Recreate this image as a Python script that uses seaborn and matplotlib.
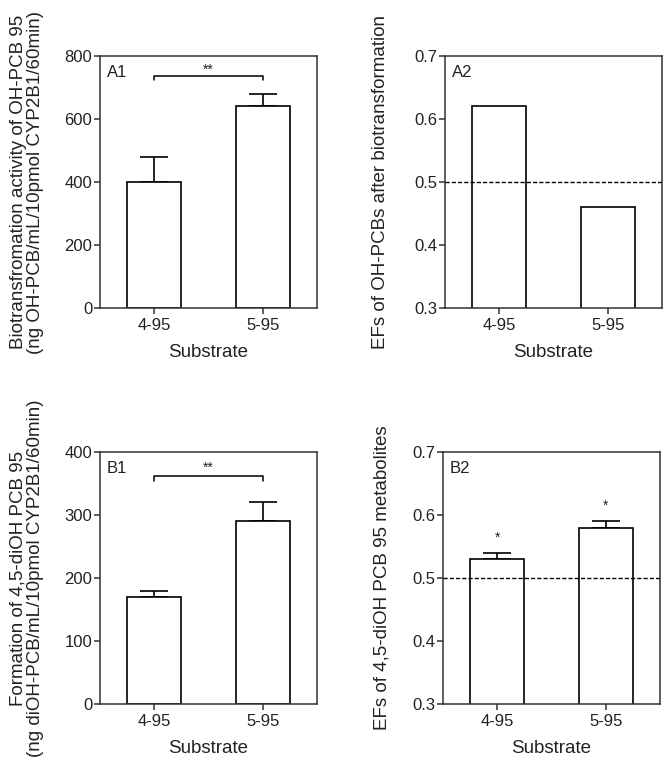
import matplotlib
matplotlib.use("Agg")
import matplotlib.pyplot as plt
import seaborn as sns
import pandas as pd

# ---- data ----
substrates = ["4-95", "5-95"]
a1_values = [400, 640]
a1_errors = [80, 40]
a2_values = [0.62, 0.46]
b1_values = [170, 290]
b1_errors = [10, 30]
b2_values = [0.53, 0.58]
b2_errors = [0.01, 0.01]
b2_stars = ["*", "*"]
a1_yticks = [0, 200, 400, 600, 800]
b1_yticks = [0, 100, 200, 300, 400]
ef_yticks = [0.3, 0.4, 0.5, 0.6, 0.7]
a1_bracket = 737
b1_bracket = 362
ef_reference = 0.5

sns.set_style("ticks")
plt.rcParams["font.family"] = ["Liberation Sans", "DejaVu Sans"]
TXT = "#222222"
SP = "#333333"
plt.rcParams.update({
    "text.color": TXT, "axes.labelcolor": TXT,
    "xtick.color": SP, "ytick.color": SP,
    "xtick.labelcolor": TXT, "ytick.labelcolor": TXT,
})

fig = plt.figure(figsize=(6.64, 7.59), dpi=100)
W, H = 664, 759


def make_ax(left, right, top, bottom):
    return fig.add_axes([left / W, (H - bottom) / H, (right - left) / W, (bottom - top) / H])


axA1 = make_ax(100, 317, 56, 308)
axA2 = make_ax(445, 662, 56, 308)
axB1 = make_ax(100, 317, 452, 704)
axB2 = make_ax(443, 660, 452, 704)


def draw(ax, values, errors, yticks, ylabel, label, label_x):
    df = pd.DataFrame({"Substrate": substrates, "v": values})
    sns.barplot(data=df, x="Substrate", y="v", ax=ax, color="white", saturation=1,
                edgecolor="black", linewidth=1.2, width=0.5, errorbar=None, zorder=2)
    if errors is not None:
        ax.errorbar(range(len(values)), values, yerr=[[0] * len(errors), errors],
                    fmt="none", ecolor="black", elinewidth=1.2, capsize=10,
                    capthick=1.2, zorder=1)
    ax.set_ylim(yticks[0], yticks[-1])
    ax.set_xlim(-0.5, 1.5)
    ax.set_yticks(yticks)
    ax.set_yticklabels([f"{t:g}" for t in yticks])
    ax.tick_params(axis="both", labelsize=12, length=4, width=1.1, direction="out")
    ax.tick_params(axis="y", pad=1.5)
    ax.tick_params(axis="x", pad=3)
    for s in ax.spines.values():
        s.set_visible(True)
        s.set_linewidth(1.1)
        s.set_color(SP)
    ax.set_xlabel("Substrate", fontsize=13.5, va="center")
    ax.xaxis.set_label_coords(0.5, -0.175)
    ax.set_ylabel(ylabel, fontsize=13.5, va="center", linespacing=1.05)
    ax.yaxis.set_label_coords(label_x, 0.5)
    ax.text(0.03, 0.935, label, transform=ax.transAxes, fontsize=12,
            ha="left", va="center")


draw(axA1, a1_values, a1_errors, a1_yticks,
     "Biotransfromation activity of OH-PCB 95\n(ng OH-PCB/mL/10pmol CYP2B1/60min)",
     "A1", -0.336)
draw(axA2, a2_values, None, ef_yticks,
     "EFs of OH-PCBs after biotransformation", "A2", -0.295)
draw(axB1, b1_values, b1_errors, b1_yticks,
     "Formation of 4,5-diOH PCB 95\n(ng diOH-PCB/mL/10pmol CYP2B1/60min)",
     "B1", -0.336)
draw(axB2, b2_values, b2_errors, ef_yticks,
     "EFs of 4,5-diOH PCB 95 metabolites", "B2", -0.281)

# reference lines
for ax in (axA2, axB2):
    ax.axhline(ef_reference, ls=(0, (3, 1.5)), lw=1.0, color="black", zorder=3)


# significance brackets
def bracket(ax, y, drop, text_off):
    ax.plot([0, 0, 1, 1], [y - drop, y, y, y - drop], color="black", lw=1.1, zorder=3)
    ax.text(0.5, y + text_off, "**", ha="center", va="center", fontsize=10)


bracket(axA1, a1_bracket, 14, 18)
bracket(axB1, b1_bracket, 8, 13)

for i, (v, e, s) in enumerate(zip(b2_values, b2_errors, b2_stars)):
    axB2.text(i, v + e + 0.024, s, ha="center", va="center", fontsize=10)

fig.savefig("out.png", dpi=100)
